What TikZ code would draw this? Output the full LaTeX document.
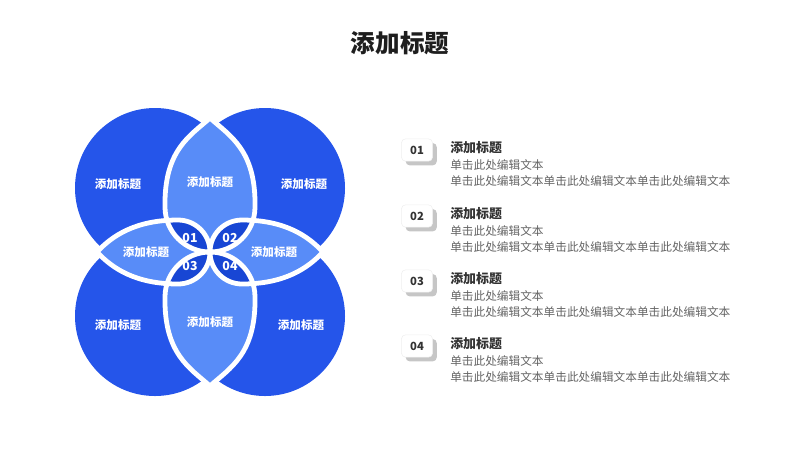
\documentclass[tikz,border=0pt]{standalone}
\usepackage{fontspec}
\setmainfont{Noto Sans CJK SC}
\usepackage{tikz}
\usetikzlibrary{positioning, shadows}
\definecolor{mainblue}{RGB}{37,85,234}
\definecolor{petalblue}{RGB}{88,140,248}
\definecolor{deepblue}{RGB}{24,70,212}
\definecolor{titlegray}{RGB}{30,30,30}
\definecolor{headgray}{RGB}{51,51,51}
\definecolor{bodygray}{RGB}{100,100,100}
\tikzset{
  petaledge/.style={draw=white, line width=3.4pt, line join=round},
  circlelabel/.style={font=\fontsize{8.2pt}{10pt}\selectfont\bfseries, text=white},
  numlabel/.style={font=\fontsize{8.8pt}{10pt}\selectfont\bfseries, text=white, inner sep=0pt},
  badge/.style={rectangle, rounded corners=3pt, fill=white, draw=black!6,
    minimum width=0.78cm, minimum height=0.56cm,
    font=\fontsize{8pt}{10pt}\selectfont\bfseries, text=headgray,
    drop shadow={shadow xshift=3pt, shadow yshift=-3pt, fill=black!50, opacity=0.45}},
  itemhead/.style={inner sep=0pt, font=\fontsize{9.2pt}{11pt}\selectfont\bfseries, text=headgray},
  itembody/.style={anchor=west, inner sep=0pt, font=\fontsize{8.3pt}{10pt}\selectfont, text=bodygray}
}
% petals: pointed outer tip, round inner end
\newcommand{\petalT}{(210,118) .. controls (190,136) and (164,150) .. (165,207) arc[start angle=180, end angle=0, radius=45] .. controls (256,150) and (230,136) .. (210,118) -- cycle}
\newcommand{\petalB}{(210,386) .. controls (190,368) and (164,354) .. (165,297) arc[start angle=180, end angle=360, radius=45] .. controls (256,354) and (230,368) .. (210,386) -- cycle}
\newcommand{\petalL}{(97,252) .. controls (112,236) and (135,220) .. (178,220) arc[start angle=-90, end angle=90, radius=32] .. controls (135,284) and (112,268) .. (97,252) -- cycle}
\newcommand{\petalR}{(323,252) .. controls (308,236) and (285,220) .. (242,220) arc[start angle=-90, end angle=-270, radius=32] .. controls (285,284) and (308,268) .. (323,252) -- cycle}

\begin{document}
\begin{tikzpicture}[x=0.025cm, y=-0.025cm]
  \useasboundingbox (0,0) rectangle (800,450);

  % Title
  \node[font=\fontsize{17.5pt}{20pt}\selectfont\bfseries, text=titlegray] (title) at (400,43) {添加标题};

  % Big circles
  \foreach \cx/\cy in {155/188, 265/188, 155/316, 265/316}
    \fill[mainblue] (\cx,\cy) circle[radius=80];

  % Petals
  \fill[petalblue] \petalT;
  \fill[petalblue] \petalB;
  \fill[petalblue] \petalL;
  \fill[petalblue] \petalR;

  % Overlaps
  \begin{scope}
    \clip \petalT;
    \fill[deepblue] \petalL;
    \fill[deepblue] \petalR;
  \end{scope}
  \begin{scope}
    \clip \petalB;
    \fill[deepblue] \petalL;
    \fill[deepblue] \petalR;
  \end{scope}

  % White edges
  \draw[petaledge] \petalT;
  \draw[petaledge] \petalB;
  \draw[petaledge] \petalL;
  \draw[petaledge] \petalR;

  % Labels
  \node[circlelabel] (tl) at (118,184) {添加标题};
  \node[circlelabel] (tr) at (304,184) {添加标题};
  \node[circlelabel] (bl) at (118,325) {添加标题};
  \node[circlelabel] (br) at (301,325) {添加标题};
  \node[circlelabel] (pt) at (210,182) {添加标题};
  \node[circlelabel] (pb) at (210,322) {添加标题};
  \node[circlelabel] (pl) at (146,252) {添加标题};
  \node[circlelabel] (pr) at (274,252) {添加标题};
  \node[numlabel] (n1) at (190,238) {01};
  \node[numlabel] (n2) at (230,238) {02};
  \node[numlabel] (n3) at (190,266) {03};
  \node[numlabel] (n4) at (230,266) {04};

  % List
  \foreach \i/\y in {1/150, 2/216, 3/281, 4/346}{
    \node[badge] (badge\i) at (417,\y) {0\i};
    \node[itemhead, anchor=west] (head\i) at (450,\y-2) {添加标题};
    \node[itembody] (lineA\i) at ([yshift=-0.42cm]head\i.west) {单击此处编辑文本};
    \node[itembody] (lineB\i) at ([yshift=-0.4cm]lineA\i.west) {单击此处编辑文本单击此处编辑文本单击此处编辑文本};
  }
\end{tikzpicture}
\end{document}
